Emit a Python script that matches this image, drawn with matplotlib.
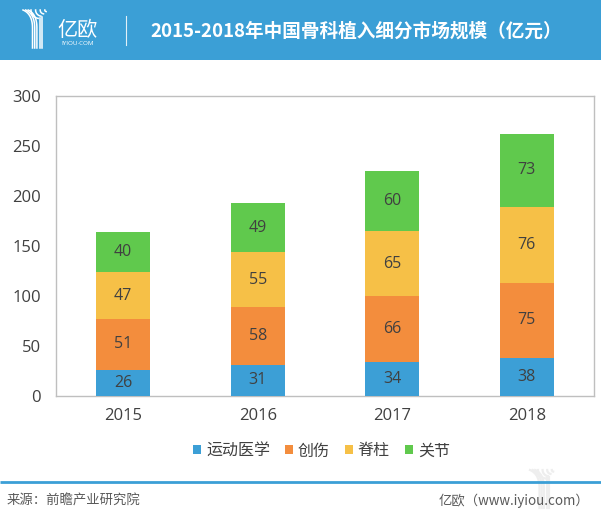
import numpy as np
import matplotlib.pyplot as plt
from matplotlib.patches import Rectangle

plt.rcParams['font.family'] = ['Open Sans', 'Noto Sans CJK SC', 'DejaVu Sans']

# ── data ──
years = ['2015', '2016', '2017', '2018']
sports_med = [26, 31, 34, 38]     # 运动医学
trauma     = [51, 58, 66, 75]     # 创伤
spine      = [47, 55, 65, 76]     # 脊柱
joint      = [40, 49, 60, 73]     # 关节
series_names = ['运动医学', '创伤', '脊柱', '关节']

BLUE   = '#3c9fd6'
ORANGE = '#f38d3d'
YELLOW = '#f6c047'
GREEN  = '#60c94d'
HEADER = '#3b9fd6'
TXT    = '#404040'
CJK = ['Noto Sans CJK SC', 'DejaVu Sans']

W, H = 601, 515
fig = plt.figure(figsize=(W / 100, H / 100), dpi=100)
fig.patch.set_facecolor('white')

# background layer in pixel coordinates
bg = fig.add_axes([0, 0, 1, 1])
bg.set_xlim(0, W)
bg.set_ylim(H, 0)
bg.axis('off')
bg.add_patch(Rectangle((0, 0), W, 60, color=HEADER, lw=0))


def draw_logo(ox, oy, col, lw=1.1, z=1):
    # stylised Y, drawn as parallel strands
    t = np.linspace(0, 1, 30)
    for k in range(3):
        x0 = ox + k * 2.6
        xs = ox + 9.5 + k * 2.2
        bx = (1 - t) ** 2 * x0 + 2 * (1 - t) * t * xs + t ** 2 * xs
        by = (1 - t) ** 2 * oy + 2 * (1 - t) * t * (oy + 4) + t ** 2 * (oy + 18)
        bg.plot(np.r_[bx, xs], np.r_[by, oy + 38], color=col, lw=lw, zorder=z)
    for k in range(4):
        rr = max(8.5 - k * 2.3, 1.2)
        a = np.linspace(np.pi, np.pi * 0.55, 20)
        bg.plot(ox + 25 - rr + rr * np.cos(a), oy + rr * np.sin(a), color=col, lw=lw, zorder=z)
    bg.plot([ox + 16.5, ox + 16.5], [oy + 8, oy + 38], color=col, lw=lw, zorder=z)
    bg.plot([ox + 19, ox + 19], [oy + 7, oy + 38], color=col, lw=lw, zorder=z)


draw_logo(23, 10, 'white')
bg.text(57, 30, '亿欧', color='white', fontsize=14.5, family=CJK,
        fontweight='light', ha='left', va='center')
bg.text(77.5, 43.5, 'IYIOU·COM', color='white', fontsize=4.5, ha='center', va='center')
bg.plot([126, 126], [16, 45], color='white', lw=0.8, alpha=0.85)
bg.text(150, 31, '2015-2018年中国骨科植入细分市场规模（亿元）', color='white',
        fontsize=13.4, fontweight='black', family=CJK,
        ha='left', va='center')

# footer
bg.plot([0, W], [482, 482], color=HEADER, lw=2.0, solid_capstyle='butt')
bg.text(7, 501, '来源：前瞻产业研究院', color='#595959', fontsize=9.6, family=CJK,
        ha='left', va='center')
bg.text(589, 501, '亿欧（www.iyiou.com）', color='#595959', fontsize=9.6, family=CJK,
        ha='right', va='center')

# faint watermark
draw_logo(530, 470, '#eeeeee', lw=1.6, z=0)

# ── chart ──
ax = fig.add_axes([56 / W, (H - 396) / H, 538 / W, 300 / H])
x = np.arange(len(years))
bw = 0.40
bottom = np.zeros(len(years))
for vals, col, name in zip([sports_med, trauma, spine, joint],
                           [BLUE, ORANGE, YELLOW, GREEN], series_names):
    bars = ax.bar(x, vals, bw, bottom=bottom, color=col, label=name, zorder=3)
    for b, v in zip(bars, vals):
        ax.text(b.get_x() + b.get_width() / 2, b.get_y() + v / 2, f'{v}',
                ha='center', va='center', fontsize=11.5, color=TXT, zorder=4)
    bottom += np.array(vals)

ax.set_xlim(-0.5, len(years) - 0.5)
ax.set_ylim(0, 300)
ax.set_yticks(range(0, 301, 50))
ax.set_xticks(x)
ax.set_xticklabels(years)
ax.tick_params(axis='both', length=0, labelsize=12, labelcolor=TXT)
ax.tick_params(axis='y', pad=11)
ax.tick_params(axis='x', pad=9)
for s in ax.spines.values():
    s.set_color('#bfbfbf')
    s.set_linewidth(1)

leg = fig.legend(loc='center', bbox_to_anchor=(321.5 / W, (H - 451) / H), ncol=4,
                 frameon=False, prop={'family': CJK, 'size': 11.5},
                 handlelength=0.5, handleheight=0.5, handletextpad=0.3,
                 columnspacing=0.95)
for txt in leg.get_texts():
    txt.set_color(TXT)

fig.savefig('out.png', dpi=100, facecolor='white')
